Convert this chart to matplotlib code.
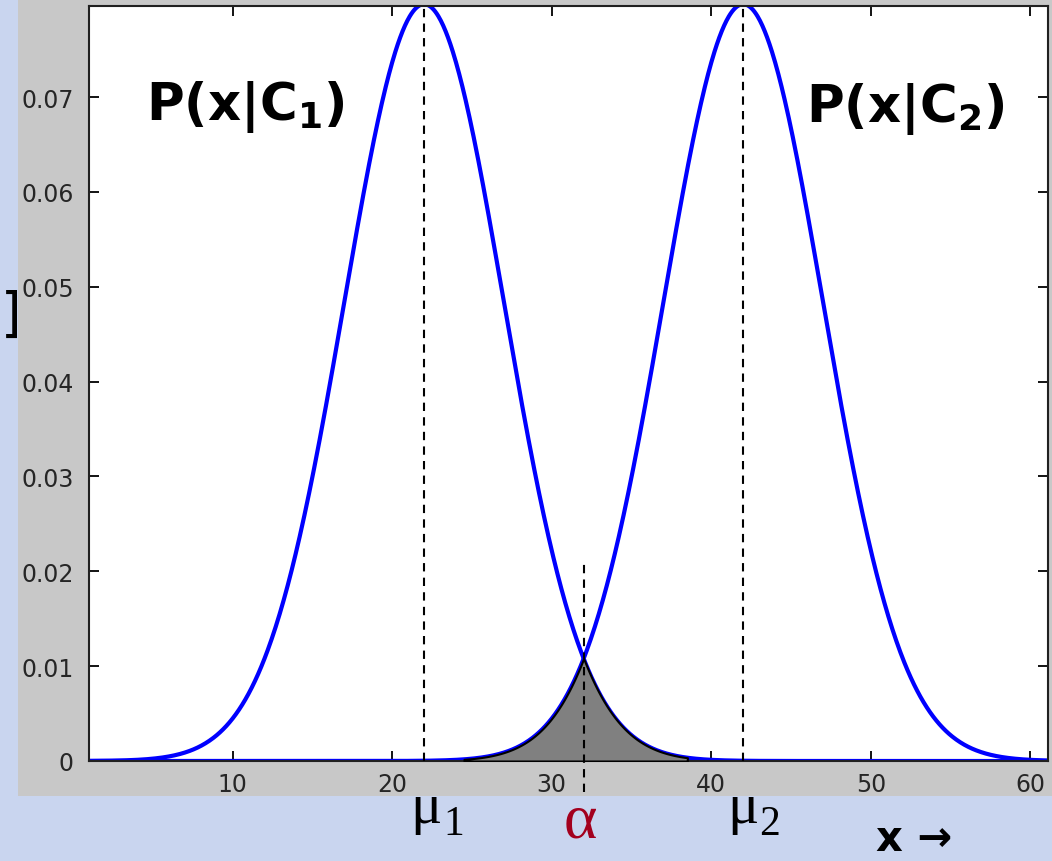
import numpy as np
import matplotlib
matplotlib.use("Agg")
import matplotlib.pyplot as plt
from matplotlib.patches import Rectangle

# two class-conditional densities, same spread
means = [22, 42]
sigma = 5
threshold = 32          # decision point alpha
overlap_range = [24.5, 38.5]

xticks = [10, 20, 30, 40, 50, 60]
yticks = [0, 0.01, 0.02, 0.03, 0.04, 0.05, 0.06, 0.07]
ytick_labels = ["0", "0.01", "0.02", "0.03", "0.04", "0.05", "0.06", "0.07"]


def normpdf(x, mu, s):
    return np.exp(-0.5 * ((x - mu) / s) ** 2) / (s * np.sqrt(2 * np.pi))


W, H = 1052, 862
fig = plt.figure(figsize=(W / 100, H / 100), dpi=100)
fig.patch.set_facecolor("#c9d5ef")

# grey figure panel behind the axes
fig.patches.append(Rectangle((18 / W, 1 - 797 / H), 1 - 18 / W, 797 / H,
                             transform=fig.transFigure, facecolor="#c8c8c8",
                             edgecolor="none", zorder=-5))

ax = fig.add_axes([89 / W, 1 - 762 / H, (1048 - 89) / W, (762 - 7) / H])
ax.set_zorder(1)
ax.set_facecolor("white")

x = np.linspace(0, 62, 1241)
p1 = normpdf(x, means[0], sigma)
p2 = normpdf(x, means[1], sigma)
ax.plot(x, p1, color="#0000ff", lw=3, zorder=2)
ax.plot(x, p2, color="#0000ff", lw=3, zorder=2)

# overlap region (error area)
xs = np.linspace(overlap_range[0], overlap_range[1], 300)
low = np.minimum(normpdf(xs, means[0], sigma), normpdf(xs, means[1], sigma))
ax.fill_between(xs, 0, low, facecolor="#808080", edgecolor="black",
                lw=1.5, zorder=3)

peak = normpdf(means[0], means[0], sigma)
for m in means:
    ax.plot([m, m], [0, peak], color="black", lw=1.5, ls=(0, (4, 3)), zorder=4)
ax.plot([threshold, threshold], [-0.0033, 0.0213], color="black", lw=1.5,
        ls=(0, (4, 3)), zorder=4, clip_on=False)

ax.set_xlim(1, 61.1)
ax.set_ylim(0, 0.0796)
ax.set_xticks(xticks)
ax.set_yticks(yticks)
ax.set_yticklabels(ytick_labels)
ax.tick_params(direction="in", length=7, width=1.3, top=True, right=True,
               labelsize=17, labelcolor="#262626", pad=8)
ax.tick_params(axis="y", pad=11)
for sp in ax.spines.values():
    sp.set_linewidth(1.5)
    sp.set_color("#202020")

# text labels, positioned in pixels
def px(xp, yp):
    return xp / W, 1 - yp / H

plt.rcParams["mathtext.fontset"] = "dejavusans"
fig.text(*px(146, 120), r"P(x|C$_\mathbf{1}$)", fontsize=37, fontweight="bold",
         ha="left", va="baseline", zorder=5)
fig.text(*px(806, 122), r"P(x|C$_\mathbf{2}$)", fontsize=37, fontweight="bold",
         ha="left", va="baseline", zorder=5)

serif = ["Liberation Serif", "DejaVu Serif"]
fig.text(*px(410, 823), "μ", fontsize=42, family=serif, ha="left", va="baseline")
fig.text(*px(443, 835), "1", fontsize=30, family=serif, ha="left", va="baseline")
fig.text(*px(727, 823), "μ", fontsize=42, family=serif, ha="left", va="baseline")
fig.text(*px(759, 835), "2", fontsize=30, family=serif, ha="left", va="baseline")
fig.text(*px(580, 838), "α", fontsize=46, family=serif, color="#a3001e",
         ha="center", va="baseline")
fig.text(*px(876, 851), "x →", fontsize=30, fontweight="bold",
         ha="left", va="baseline")
fig.text(*px(1, 316), "]", fontsize=38, ha="left", va="center")

fig.savefig("out.png", dpi=100, facecolor=fig.get_facecolor())
